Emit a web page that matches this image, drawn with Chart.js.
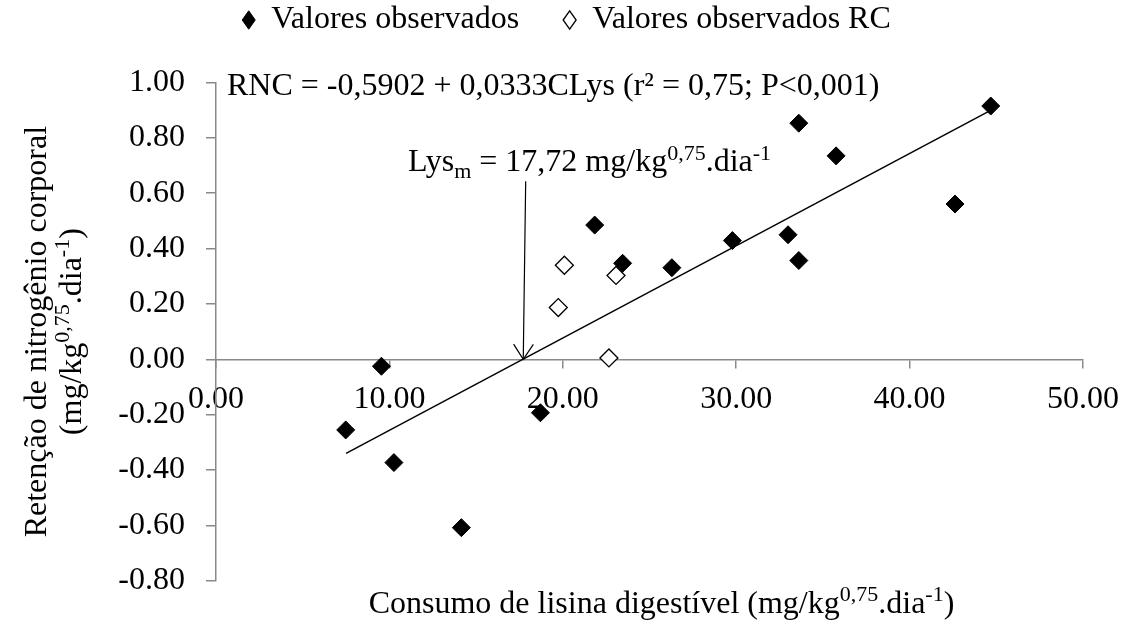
<!DOCTYPE html>
<html>
<head>
<meta charset="utf-8">
<script src="https://cdn.jsdelivr.net/npm/chart.js@4.4.0/dist/chart.umd.min.js"></script>
<style>
html,body{margin:0;padding:0;background:#fff;}
#wrap{width:1123px;height:621px;position:relative;}
</style>
</head>
<body>
<div id="wrap"><canvas id="c"></canvas></div>
<script>
// ---- data ----
const observedX = [7.48, 9.54, 10.26, 14.15, 18.71, 21.84, 23.45, 26.29, 29.78, 32.99, 33.61, 33.61, 35.76, 42.62, 44.68];
const observedY = [-0.255, -0.025, -0.373, -0.608, -0.193, 0.485, 0.347, 0.331, 0.429, 0.450, 0.853, 0.357, 0.735, 0.561, 0.915];
const rcX = [19.74, 20.09, 22.66, 23.07];
const rcY = [0.187, 0.340, 0.005, 0.303];
const fitX = [7.5, 44.7];
const fitY = [-0.34, 0.90];
const arrowX = [17.86, 17.72];
const arrowY = [0.643, 0.0];
const xTickValues = [0, 10, 20, 30, 40, 50];
const yTickValues = [-0.8, -0.6, -0.4, -0.2, 0, 0.2, 0.4, 0.6, 0.8, 1.0];
const seriesNames = ['Valores observados', 'Valores observados RC'];
const equationText = 'RNC = -0,5902 + 0,0333CLys (r² = 0,75; P<0,001)';
const lysText = 'Lys_{m} = 17,72 mg/kg^{0,75}.dia^{-1}';
const xTitle = 'Consumo de lisina digestível (mg/kg^{0,75}.dia^{-1})';
const yTitleLines = ['Retenção de nitrogênio corporal', '(mg/kg^{0,75}.dia^{-1})'];

const FONT = '"Liberation Serif", "Times New Roman", serif';
const FS = 32;
const AXIS_GREY = '#898989';
const CHART_TOP = 82.5;
const PAD_LEFT = 50;
const PLOT_LEFT = 216;

function pts(xs, ys){ return xs.map((x,i)=>({x:x, y:ys[i]})); }

function parseRich(str){
  const segs = []; let i = 0; let buf = '';
  while (i < str.length){
    const c = str[i];
    if ((c === '^' || c === '_') && str[i+1] === '{'){
      if (buf){ segs.push({t:buf,k:'n'}); buf=''; }
      const end = str.indexOf('}', i+2);
      segs.push({t:str.slice(i+2,end), k: c==='^'?'sup':'sub'});
      i = end+1;
    } else { buf += c; i++; }
  }
  if (buf) segs.push({t:buf,k:'n'});
  return segs;
}

function drawRich(ctx, str, x, y, size, align){
  const segs = parseRich(str).map(s=>{
    const fs = s.k==='n' ? size : Math.round(size*0.68);
    ctx.font = fs + 'px ' + FONT;
    return Object.assign({}, s, {fs:fs, w:ctx.measureText(s.t).width});
  });
  const total = segs.reduce((a,s)=>a+s.w,0);
  let cx = align==='center' ? x - total/2 : x;
  ctx.textAlign = 'left';
  ctx.textBaseline = 'alphabetic';
  ctx.fillStyle = '#000';
  segs.forEach(s=>{
    ctx.font = s.fs + 'px ' + FONT;
    const dy = s.k==='sup' ? -size*0.36 : (s.k==='sub' ? size*0.2 : 0);
    ctx.fillText(s.t, cx, y+dy);
    cx += s.w;
  });
}

// spacer layout box placed between the legend and the plot area
const spacerPlugin = {
  id: 'legendSpacer',
  beforeInit(chart){
    const box = {
      id: 'legendSpacerBox', position: 'top', weight: 0, fullSize: true,
      options: {},
      top:0, left:0, right:0, bottom:0, width:0, height:0,
      isHorizontal(){ return true; },
      update(maxWidth){
        const lg = chart.legend;
        this.width = maxWidth;
        this.height = Math.max(0, CHART_TOP - (lg ? lg.height : 0));
      },
      draw(){}
    };
    Chart.layouts.addBox(chart, box);
  }
};

const annotationPlugin = {
  id: 'annotations',
  afterDatasetsDraw(chart){
    const ctx = chart.ctx;
    const xs = chart.scales.x, ys = chart.scales.y;
    const area = chart.chartArea;
    ctx.save();
    // arrow head at the tip of the arrow shaft
    const x0 = xs.getPixelForValue(arrowX[0]), y0 = ys.getPixelForValue(arrowY[0]);
    const x1 = xs.getPixelForValue(arrowX[1]), y1 = ys.getPixelForValue(arrowY[1]);
    const ang = Math.atan2(y1-y0, x1-x0);
    const L = 18, spread = 0.58;
    ctx.strokeStyle = '#000'; ctx.lineWidth = 1.2;
    ctx.beginPath();
    ctx.moveTo(x1 - L*Math.cos(ang-spread), y1 - L*Math.sin(ang-spread));
    ctx.lineTo(x1, y1);
    ctx.lineTo(x1 - L*Math.cos(ang+spread), y1 - L*Math.sin(ang+spread));
    ctx.stroke();
    // equation and Lys texts
    drawRich(ctx, equationText, xs.getPixelForValue(0.63), ys.getPixelForValue(0.955), FS, 'left');
    drawRich(ctx, lysText, xs.getPixelForValue(11.07), ys.getPixelForValue(0.679), FS, 'left');
    // axis titles
    const cxm = (area.left + area.right)/2 + 12;
    drawRich(ctx, xTitle, cxm, 613, FS, 'center');
    const cym = (area.top + area.bottom)/2;
    ctx.translate(0, cym);
    ctx.rotate(-Math.PI/2);
    drawRich(ctx, yTitleLines[0], 0, 46, FS, 'center');
    drawRich(ctx, yTitleLines[1], 0, 81, FS, 'center');
    ctx.restore();
  }
};

const fmt = v => (Math.abs(v) < 1e-9 ? 0 : v).toFixed(2);

new Chart(document.getElementById('c'), {
  type: 'scatter',
  data: {
    datasets: [
      {label: seriesNames[0], data: pts(observedX, observedY), pointStyle:'rectRot', pointRadius:9, pointHoverRadius:9,
       backgroundColor:'#000', borderColor:'#000', borderWidth:1, order:1},
      {label: seriesNames[1], data: pts(rcX, rcY), pointStyle:'rectRot', pointRadius:9, pointHoverRadius:9,
       backgroundColor:'#fff', borderColor:'#000', borderWidth:1.3, order:2},
      {label: 'fit', type:'line', data: pts(fitX, fitY), borderColor:'#000', borderWidth:1.5, pointRadius:0, fill:false, order:3},
      {label: 'arrow', type:'line', data: pts(arrowX, arrowY), borderColor:'#000', borderWidth:1.2, pointRadius:0, fill:false, order:4}
    ]
  },
  options: {
    responsive: true,
    maintainAspectRatio: false,
    animation: false,
    events: [],
    layout: {padding: {left:PAD_LEFT, right:40, top:0, bottom:38.5}},
    plugins: {
      tooltip: {enabled:false},
      legend: {
        display: true, position: 'top',
        labels: {
          usePointStyle: true, pointStyle: 'rectRot', boxHeight: 13, pointStyleWidth: 13,
          padding: 4, color:'#000', font: {family: FONT, size: FS},
          filter: item => item.datasetIndex < 2,
          generateLabels: chart => {
            const items = Chart.defaults.plugins.legend.labels.generateLabels(chart);
            items.forEach(it => { if (it.datasetIndex === 0) it.text = it.text + '     '; });
            return items;
          }
        }
      }
    },
    scales: {
      x: {
        type:'linear', min:0, max:50, position:{y:0},
        afterBuildTicks: s => { s.ticks = xTickValues.map(v=>({value:v})); },
        ticks: {font:{family:FONT, size:FS}, color:'#000', padding:13, maxRotation:0, autoSkip:false, callback: fmt},
        grid: {drawOnChartArea:false, drawTicks:true, tickLength:8, color:AXIS_GREY, lineWidth:1.5},
        border: {display:true, color:AXIS_GREY, width:1.5},
        afterFit: s => { s.height = 0; s.paddingLeft = 0; s.paddingRight = 0; }
      },
      y: {
        type:'linear', min:-0.8, max:1.0,
        afterBuildTicks: s => { s.ticks = yTickValues.map(v=>({value:v})); },
        ticks: {font:{family:FONT, size:FS}, color:'#000', padding:21, autoSkip:false, callback: fmt},
        grid: {drawOnChartArea:false, drawTicks:true, tickLength:10, color:AXIS_GREY, lineWidth:1.5},
        border: {display:true, color:AXIS_GREY, width:1.5},
        afterFit: s => { s.width = PLOT_LEFT - PAD_LEFT; s.paddingTop = CHART_TOP; }
      }
    }
  },
  plugins: [spacerPlugin, annotationPlugin]
});
</script>
</body>
</html>
